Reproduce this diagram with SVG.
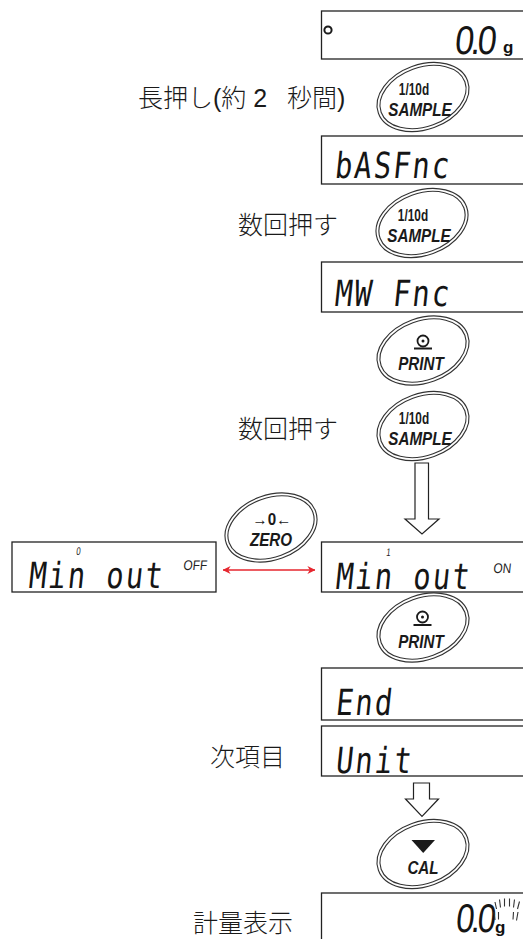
<svg xmlns="http://www.w3.org/2000/svg" width="523" height="939" viewBox="0 0 523 939">
<style>
.disp{fill:#fff;stroke:#222;stroke-width:1.3}
.lcd{font-family:"DejaVu Sans Mono","Liberation Mono",monospace;font-size:36px;letter-spacing:2.5px;fill:#151515}
.num{font-family:"Liberation Sans",Arial,sans-serif;font-size:40px;letter-spacing:-3.5px;fill:#151515}
.sm{font-family:"Liberation Sans",Arial,sans-serif;fill:#222}
.unit{font-family:"Liberation Sans",Arial,sans-serif;font-weight:bold;font-size:17px;fill:#111}
.bt{font-family:"Liberation Sans",Arial,sans-serif;font-weight:bold;text-anchor:middle;fill:#1a1a1a}
.it{font-style:italic}
.jp{font-family:"Liberation Sans","Noto Sans CJK JP",sans-serif;font-size:25px;font-weight:300;fill:#1a1a1a}
.hollow{fill:#fff;stroke:#222;stroke-width:1.2}
.sym{fill:none;stroke:#1a1a1a}
.flk{stroke:#333;stroke-width:1.1;fill:none}
</style>
<defs>
<g id="btn">
<ellipse rx="46" ry="31" transform="rotate(-20)" fill="#fff" stroke="#333" stroke-width="4"/>
<ellipse rx="46" ry="31" transform="rotate(-20)" fill="none" stroke="#fff" stroke-width="1.8"/>
</g>
<marker id="rh" viewBox="0 0 10 10" refX="9.5" refY="5" markerWidth="8" markerHeight="8" markerUnits="userSpaceOnUse" orient="auto-start-reverse">
<path d="M0,0 L10,5 L0,10 L3,5 Z" fill="#e6262e"/>
</marker>
</defs>

<g id="labels">
<text class="jp" x="138" y="107">長押し(約 2 <tspan x="287">秒間)</tspan></text>
<text class="jp" x="238" y="234">数回押す</text>
<text class="jp" x="238" y="438">数回押す</text>
<text class="jp" x="210" y="766">次項目</text>
<text class="jp" x="193" y="932">計量表示</text>
</g>

<g id="connectors">
<line x1="223" y1="570" x2="315" y2="570" stroke="#e6262e" stroke-width="1.3" marker-start="url(#rh)" marker-end="url(#rh)"/>
<path class="hollow" d="M415,463 H428.5 V519 H439 L422,534 L405,519 H415 Z"/>
<path class="hollow" d="M413.5,783 H429.5 V799 H438.5 L422,816.5 L405.5,799 H413.5 Z"/>
</g>

<g id="disp-zero">
<rect class="disp" x="321.5" y="11" width="204" height="48"/>
<circle cx="328" cy="30" r="3.6" class="sym" stroke-width="2"/>
<text class="num" transform="translate(454,54) skewX(-6) scale(0.85,1)">0.0</text>
<text class="unit" x="503" y="53">g</text>
</g>

<g id="btn-sample-1">
<use href="#btn" transform="translate(423,97)"/>
<text class="bt" font-size="16" transform="translate(414,94.5) scale(0.74,1)">1/10d</text>
<text class="bt it" font-size="19" transform="translate(420,115.5) scale(0.8,1)">SAMPLE</text>
</g>

<g id="disp-basfnc">
<rect class="disp" x="321.5" y="136" width="204" height="48"/>
<text class="lcd" transform="translate(334,178) skewX(-6) scale(0.8,1)">bASFnc</text>
</g>

<g id="btn-sample-2">
<use href="#btn" transform="translate(422,223)"/>
<text class="bt" font-size="16" transform="translate(413,221) scale(0.74,1)">1/10d</text>
<text class="bt it" font-size="19" transform="translate(419,242) scale(0.8,1)">SAMPLE</text>
</g>

<g id="disp-mwfnc">
<rect class="disp" x="321.5" y="262" width="204" height="50"/>
<text class="lcd" transform="translate(334,306) skewX(-6) scale(0.8,1)">MW Fnc</text>
</g>

<g id="btn-print-1">
<use href="#btn" transform="translate(423,350.5)"/>
<circle cx="423" cy="341" r="5.5" class="sym" stroke-width="1.8"/>
<circle cx="423" cy="341" r="1.5" fill="#1a1a1a"/>
<line x1="414" y1="348.5" x2="432" y2="348.5" class="sym" stroke-width="2"/>
<text class="bt it" font-size="19" transform="translate(421,370) scale(0.8,1)">PRINT</text>
</g>

<g id="btn-sample-3">
<use href="#btn" transform="translate(423,426)"/>
<text class="bt" font-size="16" transform="translate(414,424) scale(0.74,1)">1/10d</text>
<text class="bt it" font-size="19" transform="translate(420,445) scale(0.8,1)">SAMPLE</text>
</g>

<g id="disp-minout-off">
<rect class="disp" x="12" y="542" width="204" height="50"/>
<text class="sm" font-size="11" transform="translate(76,555) skewX(-6) scale(0.7,1)">0</text>
<text class="lcd" transform="translate(28,588) skewX(-6) scale(0.8,1)">Min out</text>
<text class="sm" font-size="14" transform="translate(183,570) skewX(-6) scale(0.85,1)">OFF</text>
</g>

<g id="btn-zero">
<use href="#btn" transform="translate(271,527.5)"/>
<text class="bt" font-family="DejaVu Sans, Liberation Sans, sans-serif" font-size="16" transform="translate(272,524.5) scale(0.95,1)">→0←</text>
<text class="bt it" font-size="19" transform="translate(271,546) scale(0.8,1)">ZERO</text>
</g>

<g id="disp-minout-on">
<rect class="disp" x="321.5" y="542" width="204" height="50"/>
<text class="sm" font-size="11" transform="translate(386,556) skewX(-6) scale(0.7,1)">1</text>
<text class="lcd" transform="translate(335,589) skewX(-6) scale(0.8,1)">Min out</text>
<text class="sm" font-size="14" transform="translate(493,573) skewX(-6) scale(0.85,1)">ON</text>
</g>

<g id="btn-print-2">
<use href="#btn" transform="translate(423,627.5)"/>
<circle cx="422.5" cy="617" r="5.5" class="sym" stroke-width="1.8"/>
<circle cx="422.5" cy="617" r="1.5" fill="#1a1a1a"/>
<line x1="413.5" y1="625" x2="431.5" y2="625" class="sym" stroke-width="2"/>
<text class="bt it" font-size="19" transform="translate(421,647.5) scale(0.8,1)">PRINT</text>
</g>

<g id="disp-end">
<rect class="disp" x="321.5" y="668" width="204" height="52"/>
<text class="lcd" transform="translate(335,715) skewX(-6) scale(0.8,1)">End</text>
</g>

<g id="disp-unit">
<rect class="disp" x="321.5" y="726" width="204" height="50"/>
<text class="lcd" transform="translate(335,773) skewX(-6) scale(0.8,1)">Unit</text>
</g>

<g id="btn-cal">
<use href="#btn" transform="translate(423,854)"/>
<polygon points="411.5,840 435,840 423.2,853" fill="#1a1a1a"/>
<text class="bt it" font-size="19" transform="translate(423,874) scale(0.8,1)">CAL</text>
</g>

<g id="disp-weigh">
<rect class="disp" x="321.5" y="893" width="204" height="60"/>
<text class="num" font-size="38" transform="translate(455,932) skewX(-6) scale(0.82,1)">0.0</text>
<text class="unit" x="495" y="933">g</text>
<path class="flk" d="M495,902 L496.5,909 M499.5,899.5 L500.5,907.5 M504.5,898.5 L504.5,906.5 M509.5,898.5 L509.5,906.5 M514.5,899.5 L513.5,907.5 M519.5,901.5 L517.5,909 M494,912 L495,920 M498.5,912 L498.5,919.5 M513.5,912 L513,919.5 M518,912 L516.5,920.5"/>
</g>
</svg>
